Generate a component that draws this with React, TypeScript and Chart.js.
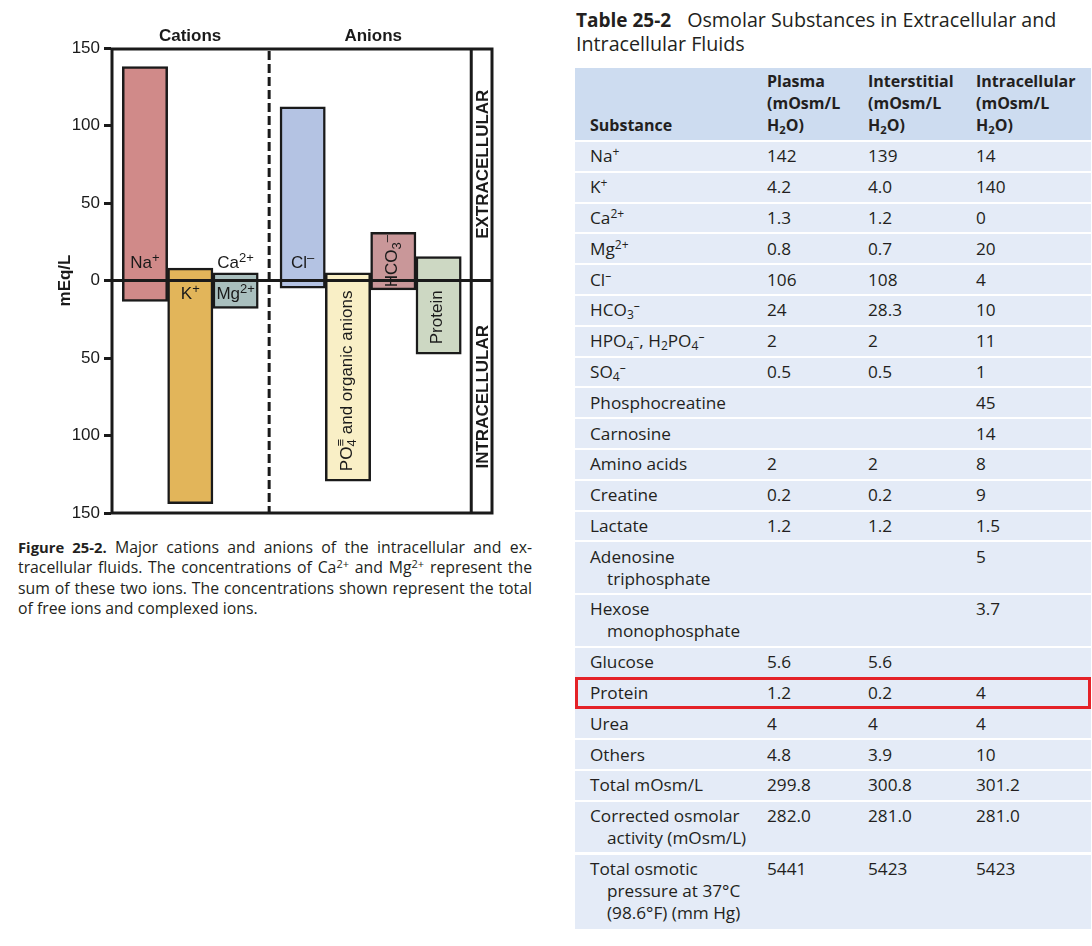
import React, { useEffect, useRef } from 'react';
import { Chart, registerables } from 'chart.js';
Chart.register(...registerables);

// ---------- Chart data ----------
const cationNames = ['Na+', 'K+', 'Ca2+/Mg2+'];
const cationExtracellular = [138, 8, 5];
const cationIntracellular = [-13.5, -144, -18];
const anionNames = ['Cl-', 'PO4 and organic anions', 'HCO3-', 'Protein'];
const anionExtracellular = [112, 5, 31, 15.5];
const anionIntracellular = [-5, -129.5, -6, -47.5];
const yTickStep = 50;
const yLimit = 150;

// layout of the category axis in "bar units"
const X_MAX = 8.43;
const CATION_START = 0.75;
const ANION_START = 4.23;
const DIVIDER_X = 3.49;
const INNER_X = 7.95;

const barColors = ['#d08a89', '#e2b55a', '#a9bfbe', '#b4c3e3', '#f9efc6', '#c99799', '#cdd8c3'];

type Seg = { t?: string; sup?: boolean; sub?: boolean; stack?: [string, string] };
const barTexts: Seg[][] = [
  [{ t: 'Na' }, { t: '+', sup: true }],
  [{ t: 'K' }, { t: '+', sup: true }],
  [{ t: 'Mg' }, { t: '2+', sup: true }],
  [{ t: 'Cl' }, { t: '–', sup: true }],
  [{ t: 'PO' }, { stack: ['≡', '4'] }, { t: ' and organic anions' }],
  [{ t: 'HCO' }, { t: '3', sub: true }, { t: '–', sup: true }],
  [{ t: 'Protein' }],
];
const barTextMode = ['above', 'below', 'below', 'above', 'rotNeg', 'rotAll', 'rotNeg'];
const caText: Seg[] = [{ t: 'Ca' }, { t: '2+', sup: true }];

// ---------- Table data ----------
const substances = [
  'Na^{+}', 'K^{+}', 'Ca^{2+}', 'Mg^{2+}', 'Cl^{–}', 'HCO_{3}^{–}', 'HPO_{4}^{–}, H_{2}PO_{4}^{–}', 'SO_{4}^{–}',
  'Phosphocreatine', 'Carnosine', 'Amino acids', 'Creatine', 'Lactate', 'Adenosine\ntriphosphate',
  'Hexose\nmonophosphate', 'Glucose', 'Protein', 'Urea', 'Others', 'Total mOsm/L',
  'Corrected osmolar\nactivity (mOsm/L)', 'Total osmotic\npressure at 37°C\n(98.6°F) (mm Hg)',
];
const plasma = ['142', '4.2', '1.3', '0.8', '106', '24', '2', '0.5', '', '', '2', '0.2', '1.2', '', '', '5.6', '1.2', '4', '4.8', '299.8', '282.0', '5441'];
const interstitial = ['139', '4.0', '1.2', '0.7', '108', '28.3', '2', '0.5', '', '', '2', '0.2', '1.2', '', '', '5.6', '0.2', '4', '3.9', '300.8', '281.0', '5423'];
const intracellular = ['14', '140', '0', '20', '4', '10', '11', '1', '45', '14', '8', '9', '1.5', '5', '3.7', '', '4', '4', '10', '301.2', '281.0', '5423'];
const headers = ['Substance', 'Plasma\n(mOsm/L\nH_{2}O)', 'Interstitial\n(mOsm/L\nH_{2}O)', 'Intracellular\n(mOsm/L\nH_{2}O)'];
const highlightedRow = 'Protein';

const CHART_FONT = '"Liberation Sans", Arial, Helvetica, sans-serif';
const TEXT_FONT = '"Open Sans", "Noto Sans", sans-serif';
const INK = '#1a1a1a';

function segWidth(ctx: CanvasRenderingContext2D, s: Seg, size: number, small: number) {
  if (s.stack) {
    ctx.font = `${small}px ${CHART_FONT}`;
    return Math.max(ctx.measureText(s.stack[0]).width, ctx.measureText(s.stack[1]).width);
  }
  ctx.font = `${s.sup || s.sub ? small : size}px ${CHART_FONT}`;
  return ctx.measureText(s.t || '').width;
}

function drawSegs(ctx: CanvasRenderingContext2D, segs: Seg[], cx: number, cy: number, size = 17) {
  const small = 13;
  const total = segs.reduce((a, s) => a + segWidth(ctx, s, size, small), 0);
  let x = cx - total / 2;
  ctx.textBaseline = 'middle';
  ctx.textAlign = 'left';
  ctx.fillStyle = INK;
  for (const s of segs) {
    const w = segWidth(ctx, s, size, small);
    if (s.stack) {
      ctx.font = `${small}px ${CHART_FONT}`;
      ctx.fillText(s.stack[0], x, cy - 6);
      ctx.fillText(s.stack[1], x, cy + 5);
    } else if (s.sup) {
      ctx.font = `${small}px ${CHART_FONT}`;
      ctx.fillText(s.t || '', x, cy - 5);
    } else if (s.sub) {
      ctx.font = `${small}px ${CHART_FONT}`;
      ctx.fillText(s.t || '', x, cy + 5);
    } else {
      ctx.font = `${size}px ${CHART_FONT}`;
      ctx.fillText(s.t || '', x, cy);
    }
    x += w;
  }
}

const overlayPlugin = {
  id: 'overlay',
  afterDatasetsDraw(chart: any) {
    const { ctx, chartArea, scales } = chart;
    const xs = scales.x;
    const ys = scales.y;
    const { left, right, top, bottom } = chartArea;
    const zero = ys.getPixelForValue(0);
    const divX = xs.getPixelForValue(DIVIDER_X);
    const innerX = xs.getPixelForValue(INNER_X);
    ctx.save();
    ctx.strokeStyle = INK;
    ctx.lineWidth = 3;
    // frame
    ctx.strokeRect(left + 1, top + 1, right - left - 2, bottom - top - 1);
    // inner column line
    ctx.beginPath();
    ctx.moveTo(innerX, top);
    ctx.lineTo(innerX, bottom);
    ctx.stroke();
    // zero line
    ctx.beginPath();
    ctx.moveTo(left, zero);
    ctx.lineTo(right, zero);
    ctx.stroke();
    // dashed divider
    ctx.setLineDash([9, 4]);
    ctx.beginPath();
    ctx.moveTo(divX, top + 3);
    ctx.lineTo(divX, bottom);
    ctx.stroke();
    ctx.setLineDash([]);

    // group titles
    ctx.fillStyle = INK;
    ctx.font = `bold 17px ${CHART_FONT}`;
    ctx.textAlign = 'center';
    ctx.textBaseline = 'middle';
    ctx.fillText('Cations', (left + divX) / 2, top - 12);
    ctx.fillText('Anions', (divX + innerX) / 2 + 3, top - 12);

    // side column labels
    const colX = (innerX + right) / 2 + 1;
    ctx.save();
    ctx.translate(colX, (top + zero) / 2);
    ctx.rotate(-Math.PI / 2);
    ctx.fillText('EXTRACELLULAR', 0, 0);
    ctx.restore();
    ctx.save();
    ctx.translate(colX, (zero + bottom) / 2);
    ctx.rotate(-Math.PI / 2);
    ctx.fillText('INTRACELLULAR', 0, 0);
    ctx.restore();

    // bar labels
    const meta = chart.getDatasetMeta(0);
    meta.data.forEach((bar: any, i: number) => {
      const mode = barTextMode[i];
      const segs = barTexts[i];
      const yTop = Math.min(bar.y, bar.base);
      const yBot = Math.max(bar.y, bar.base);
      if (mode === 'above') drawSegs(ctx, segs, bar.x, zero - 17);
      else if (mode === 'below') drawSegs(ctx, segs, bar.x, zero + 14);
      else {
        const cy = mode === 'rotNeg' ? (zero + yBot) / 2 : (yTop + yBot) / 2;
        ctx.save();
        ctx.translate(bar.x - 1, cy);
        ctx.rotate(-Math.PI / 2);
        drawSegs(ctx, segs, 0, 0);
        ctx.restore();
      }
      if (i === 2) drawSegs(ctx, caText, bar.x, zero - 17);
    });
    ctx.restore();
  },
};

function FigureChart() {
  const ref = useRef<HTMLCanvasElement>(null);
  useEffect(() => {
    const points = [
      ...cationNames.map((_, i) => ({ x: CATION_START + i, y: [cationIntracellular[i], cationExtracellular[i]] })),
      ...anionNames.map((_, i) => ({ x: ANION_START + i, y: [anionIntracellular[i], anionExtracellular[i]] })),
    ];
    const chart = new Chart(ref.current as HTMLCanvasElement, {
      type: 'bar',
      data: {
        datasets: [
          {
            data: points as any,
            backgroundColor: barColors,
            borderColor: INK,
            borderWidth: 2.5,
            borderSkipped: false,
            barPercentage: 1,
            categoryPercentage: 1,
          } as any,
        ],
      },
      options: {
        animation: false,
        responsive: false,
        maintainAspectRatio: false,
        layout: { padding: { left: 51, top: 48, right: 67, bottom: 17 } },
        plugins: { legend: { display: false }, tooltip: { enabled: false } },
        scales: {
          x: { type: 'linear', min: 0, max: X_MAX, offset: false, display: false, ticks: { stepSize: 20 } },
          y: {
            type: 'linear',
            min: -yLimit,
            max: yLimit,
            ticks: {
              stepSize: yTickStep,
              callback: (v: any) => String(Math.abs(Number(v))),
              font: { size: 17, family: CHART_FONT },
              color: INK,
              padding: 4,
            },
            grid: { drawOnChartArea: false, color: INK, lineWidth: 3, tickLength: 7 },
            border: { display: false },
            title: {
              display: true,
              text: 'mEq/L',
              color: INK,
              font: { size: 17, weight: 'bold', family: CHART_FONT },
              padding: { top: 4, bottom: 4 },
            },
            afterFit: (s: any) => {
              s.width = 60;
            },
          } as any,
        },
      } as any,
      plugins: [overlayPlugin],
    });
    return () => chart.destroy();
  }, []);
  return (
    <canvas
      ref={ref}
      width={560}
      height={530}
      style={{ position: 'absolute', left: 0, top: 0, width: 560, height: 530 }}
    />
  );
}

const supStyle: React.CSSProperties = { fontSize: '0.7em', verticalAlign: 'baseline', position: 'relative', top: '-0.5em', lineHeight: 0 };
const subStyle: React.CSSProperties = { fontSize: '0.7em', verticalAlign: 'baseline', position: 'relative', top: '0.25em', lineHeight: 0 };

function rich(s: string) {
  const out: React.ReactNode[] = [];
  const re = /([\^_])\{([^}]*)\}/g;
  let last = 0;
  let m: RegExpExecArray | null;
  let k = 0;
  while ((m = re.exec(s))) {
    if (m.index > last) out.push(s.slice(last, m.index));
    out.push(
      m[1] === '^' ? (
        <span key={k++} style={supStyle}>{m[2]}</span>
      ) : (
        <span key={k++} style={subStyle}>{m[2]}</span>
      )
    );
    last = re.lastIndex;
  }
  if (last < s.length) out.push(s.slice(last));
  return out;
}

const colX = [15, 192, 293, 401];
const ROW_H = 30.8;
const LINE_H = 21.9;

function Table() {
  const rows = substances.map((s, i) => ({ s, vals: [plasma[i], interstitial[i], intracellular[i]] }));
  let y = 74;
  const rowEls = rows.map((r, i) => {
    const lines = r.s.split('\n');
    const h = ROW_H + LINE_H * (lines.length - 1);
    const top = y;
    y += h;
    return (
      <div
        key={i}
        style={{
          position: 'absolute',
          left: 0,
          top,
          width: 516,
          height: h,
          background: '#e4ebf7',
          borderBottom: i < rows.length - 1 ? '2px solid #fff' : 'none',
          boxSizing: 'border-box',
        }}
      >
        <div style={{ position: 'absolute', left: colX[0], top: 3.4, lineHeight: '22px' }}>
          {lines.map((l, j) => (
            <div key={j} style={{ paddingLeft: j > 0 ? 17 : 0, whiteSpace: 'nowrap' }}>
              {rich(l)}
            </div>
          ))}
        </div>
        {r.vals.map((v, j) => (
          <div key={j} style={{ position: 'absolute', left: colX[j + 1], top: 3.4, lineHeight: '22px' }}>
            {v}
          </div>
        ))}
        {r.s === highlightedRow ? (
          <div
            style={{
              position: 'absolute',
              left: 0,
              top: -2,
              width: 516,
              height: h + 2,
              border: '3px solid #e42228',
              boxSizing: 'border-box',
            }}
          />
        ) : null}
      </div>
    );
  });
  return (
    <div style={{ position: 'absolute', left: 575, top: 68, width: 516, height: y, fontFamily: TEXT_FONT, fontSize: 17.2, color: '#231f20' }}>
      <div
        style={{
          position: 'absolute',
          left: 0,
          top: 0,
          width: 516,
          height: 74,
          background: '#cddcf0',
          borderBottom: '2px solid #fff',
          boxSizing: 'border-box',
          fontWeight: 'bold',
          fontSize: 16,
        }}
      >
        {headers.map((hd, j) => {
          const lines = hd.split('\n');
          return (
            <div key={j} style={{ position: 'absolute', left: colX[j], bottom: 4, lineHeight: '22px' }}>
              {lines.map((l, k) => (
                <div key={k} style={{ whiteSpace: 'nowrap' }}>{rich(l)}</div>
              ))}
            </div>
          );
        })}
      </div>
      {rowEls}
    </div>
  );
}

function Caption() {
  const lineStyle: React.CSSProperties = { textAlign: 'justify', textAlignLast: 'justify' as any, whiteSpace: 'nowrap' };
  return (
    <div
      style={{
        position: 'absolute',
        left: 18,
        top: 537,
        width: 514,
        fontFamily: TEXT_FONT,
        fontSize: 15.8,
        lineHeight: '20.3px',
        color: '#231f20',
      }}
    >
      <div style={lineStyle}>
        <b style={{ fontSize: 14.8 }}>Figure 25-2.</b> Major cations and anions of the intracellular and ex-
      </div>
      <div style={lineStyle}>
        tracellular fluids. The concentrations of Ca<span style={supStyle}>2+</span> and Mg<span style={supStyle}>2+</span> represent the
      </div>
      <div style={lineStyle}>sum of these two ions. The concentrations shown represent the total</div>
      <div>of free ions and complexed ions.</div>
    </div>
  );
}

export default function App() {
  return (
    <div style={{ position: 'absolute', left: 0, top: 0, width: 1092, height: 946, background: '#fff', overflow: 'hidden' }}>
      <FigureChart />
      <Caption />
      <div
        style={{
          position: 'absolute',
          left: 576,
          top: 8,
          fontFamily: TEXT_FONT,
          fontSize: 19.7,
          lineHeight: '24px',
          color: '#231f20',
          whiteSpace: 'nowrap',
        }}
      >
        <span style={{ fontWeight: 'bold', fontSize: 19, marginRight: 16 }}>Table 25-2</span>Osmolar Substances in Extracellular and
        <br />
        Intracellular Fluids
      </div>
      <Table />
    </div>
  );
}
